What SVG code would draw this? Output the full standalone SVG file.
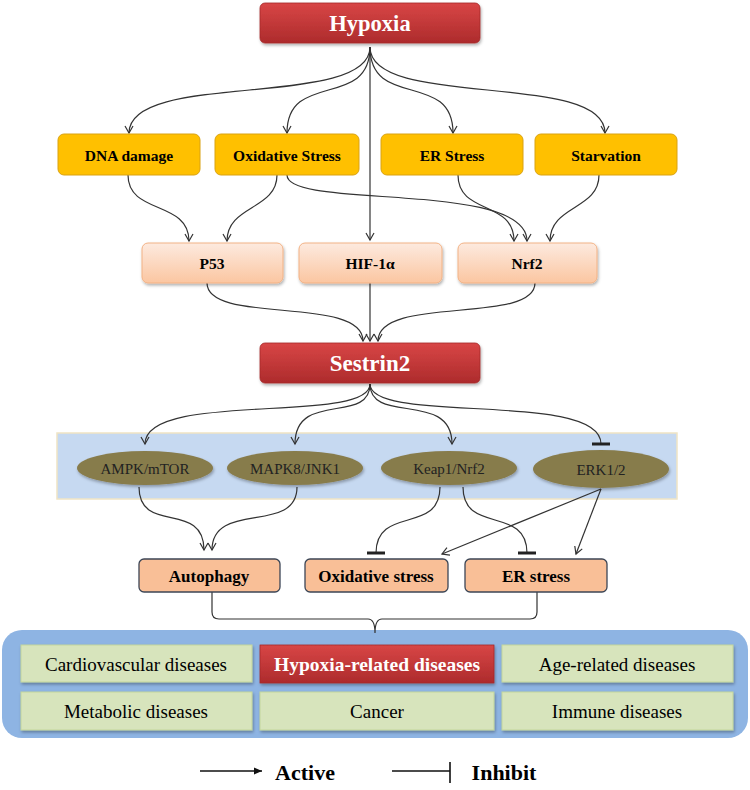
<svg xmlns="http://www.w3.org/2000/svg" width="750" height="790" viewBox="0 0 750 790" font-family="'Liberation Serif', 'Times New Roman', serif">
<defs>
<linearGradient id="red" x1="0" y1="0" x2="0" y2="1"><stop offset="0" stop-color="#d84646"/><stop offset="1" stop-color="#ad2b2c"/></linearGradient>
<linearGradient id="peach" x1="0" y1="0" x2="0" y2="1"><stop offset="0" stop-color="#fdeadf"/><stop offset="1" stop-color="#fbc6a1"/></linearGradient>
<filter id="sh" x="-10%" y="-20%" width="120%" height="150%"><feDropShadow dx="1" dy="2" stdDeviation="1.5" flood-color="#000" flood-opacity="0.3"/></filter>
<marker id="arr" markerUnits="userSpaceOnUse" markerWidth="12" markerHeight="12" viewBox="-10 -6 12 12" refX="0" refY="0" orient="auto"><path d="M-7,-4 L0,0 L-7,4" fill="none" stroke="#333" stroke-width="1.2"/></marker>
<marker id="inh" markerUnits="userSpaceOnUse" markerWidth="24" markerHeight="24" viewBox="-4 -12 8 24" refX="0" refY="0" orient="auto"><path d="M0,-9 L0,9" stroke="#222" stroke-width="3"/></marker>
<marker id="arrF" markerUnits="userSpaceOnUse" markerWidth="12" markerHeight="12" viewBox="-10 -6 12 12" refX="0" refY="0" orient="auto"><path d="M-8,-3.5 L0,0 L-8,3.5 Z" fill="#111"/></marker>
<style>
text{font-family:'Liberation Serif','Times New Roman',serif}
.t{text-anchor:middle;dominant-baseline:central}
.b{font-weight:bold}
.w{fill:#fff}
.red{fill:url(#red);stroke:#a52a2a;stroke-width:0.8;filter:url(#sh)}
.org{fill:#ffc000;stroke:#d9a213;stroke-width:1}
.pch{fill:url(#peach);stroke:#f2b285;stroke-width:1;filter:url(#sh)}
.ell{fill:#877b4b;filter:url(#sh)}
.sal{fill:#f9bf97;stroke:#3c4656;stroke-width:1.3}
.grn{fill:#d7e4bc;stroke:#c3d69b;stroke-width:1;filter:url(#sh)}
.c{fill:none;stroke:#333;stroke-width:1.2}
.a{marker-end:url(#arr)}
.i{marker-end:url(#inh)}
</style>
</defs>
<rect width="750" height="790" fill="#fff"/>
<g id="band"><rect x="57" y="433" width="620" height="66" fill="#c6d9f1" stroke="#efe4c4" stroke-width="1.5"/></g>
<g id="panel"><rect x="2" y="630" width="746" height="108" rx="20" fill="#8eb4e3"/></g>
<g id="connectors">
<path class="c a" d="M370,47 C370,110 129,70 129,133"/>
<path class="c a" d="M370,47 C370,110 287,70 287,133"/>
<path class="c a" d="M370,47 L370,240"/>
<path class="c a" d="M370,47 C370,110 453,70 453,133"/>
<path class="c a" d="M370,47 C370,110 605,70 605,133"/>
<path class="c a" d="M128,175 C128,215 189,200 189,241"/>
<path class="c a" d="M277,175 C277,210 227,205 227,241"/>
<path class="c a" d="M287,175 C287,210 527,180 527,241"/>
<path class="c a" d="M458,175 C458,215 514,200 514,241"/>
<path class="c a" d="M599,175 C599,210 550,205 550,241"/>
<path class="c a" d="M207,283 C207,325 363,295 363,341"/>
<path class="c a" d="M370,283 L370,341"/>
<path class="c a" d="M535,283 C535,325 378,295 378,341"/>
<path class="c a" d="M370,384 C370,425 145,390 145,444"/>
<path class="c a" d="M370,384 C370,425 295,390 295,444"/>
<path class="c a" d="M370,384 C370,425 452,390 452,444"/>
<path class="c i" d="M370,384 C370,425 601,390 601,444"/>
<path class="c a" d="M139,487 C139,535 204,500 204,550"/>
<path class="c a" d="M297,487 C297,535 212,500 212,550"/>
<path class="c i" d="M440,487 C440,535 376,505 376,553"/>
<path class="c i" d="M463,487 C463,535 527,505 527,553"/>
<path class="c a" d="M601,489 L442,554"/>
<path class="c a" d="M601,489 L576,554"/>
<path class="c" stroke-width="1" d="M212,592 L212,612 Q212,619 219,619 L368,619 Q375,619 375,633 Q375,619 382,619 L530,619 Q537,619 537,612 L537,592"/>
</g>
<g id="hypoxia"><rect class="red" x="260" y="3" width="220" height="40" rx="5"/><text class="t b w" x="370" y="23" font-size="22.5">Hypoxia</text></g>
<g id="dna"><rect class="org" x="58" y="134" width="142" height="41" rx="6"/><text class="t b" x="129" y="155" font-size="15.5">DNA damage</text></g>
<g id="oxs"><rect class="org" x="215" y="134" width="144" height="41" rx="6"/><text class="t b" x="287" y="155" font-size="15.5">Oxidative Stress</text></g>
<g id="ers"><rect class="org" x="381" y="134" width="142" height="41" rx="6"/><text class="t b" x="452" y="155" font-size="15.5">ER Stress</text></g>
<g id="starv"><rect class="org" x="535" y="134" width="142" height="41" rx="6"/><text class="t b" x="606" y="155" font-size="15.5">Starvation</text></g>
<g id="p53"><rect class="pch" x="142" y="243" width="141" height="40" rx="6"/><text class="t b" x="212" y="263" font-size="15.5">P53</text></g>
<g id="hif"><rect class="pch" x="299" y="243" width="143" height="40" rx="6"/><text class="t b" x="370" y="263" font-size="15.5">HIF-1α</text></g>
<g id="nrf2"><rect class="pch" x="458" y="243" width="139" height="40" rx="6"/><text class="t b" x="527" y="263" font-size="15.5">Nrf2</text></g>
<g id="sestrin2"><rect class="red" x="260" y="343" width="220" height="40" rx="5"/><text class="t b w" x="370" y="363" font-size="23">Sestrin2</text></g>
<g id="ampk"><ellipse class="ell" cx="145" cy="468" rx="68" ry="17"/><text class="t" x="145" y="469" font-size="15" fill="#222">AMPK/mTOR</text></g>
<g id="mapk8"><ellipse class="ell" cx="295" cy="468" rx="68" ry="17"/><text class="t" x="295" y="469" font-size="15" fill="#222">MAPK8/JNK1</text></g>
<g id="keap1"><ellipse class="ell" cx="449" cy="468" rx="68" ry="17"/><text class="t" x="449" y="469" font-size="15" fill="#222">Keap1/Nrf2</text></g>
<g id="erk"><ellipse class="ell" cx="601" cy="469" rx="68" ry="19"/><text class="t" x="601" y="470" font-size="15" fill="#222">ERK1/2</text></g>
<g id="autophagy"><rect class="sal" x="139" y="559" width="141" height="33" rx="5"/><text class="t b" x="209" y="576" font-size="17">Autophagy</text></g>
<g id="oxstress"><rect class="sal" x="305" y="559" width="143" height="33" rx="5"/><text class="t b" x="376" y="576" font-size="17">Oxidative stress</text></g>
<g id="erstress"><rect class="sal" x="465" y="559" width="142" height="33" rx="5"/><text class="t b" x="536" y="576" font-size="17">ER stress</text></g>
<g id="cardio"><rect class="grn" x="21" y="645" width="231" height="37"/><text class="t" x="136" y="664" font-size="19">Cardiovascular diseases</text></g>
<g id="hypdis"><rect class="red" x="260" y="645" width="234" height="38"/><text class="t b w" x="377" y="664" font-size="19.5">Hypoxia-related diseases</text></g>
<g id="age"><rect class="grn" x="502" y="645" width="231" height="37"/><text class="t" x="617" y="664" font-size="19">Age-related diseases</text></g>
<g id="metab"><rect class="grn" x="21" y="692" width="231" height="38"/><text class="t" x="136" y="711" font-size="19">Metabolic diseases</text></g>
<g id="cancer"><rect class="grn" x="260" y="692" width="234" height="38"/><text class="t" x="377" y="711" font-size="19">Cancer</text></g>
<g id="immune"><rect class="grn" x="502" y="692" width="231" height="38"/><text class="t" x="617" y="711" font-size="19">Immune diseases</text></g>
<g id="legend">
<path d="M200,771 L262,771" stroke="#111" stroke-width="1.6" marker-end="url(#arrF)"/>
<text class="t b" x="305" y="772" font-size="22">Active</text>
<path d="M392,771 L450,771 M450,762 L450,783" stroke="#111" stroke-width="1.6" fill="none"/>
<text class="t b" x="504" y="772" font-size="22">Inhibit</text>
</g>
</svg>
